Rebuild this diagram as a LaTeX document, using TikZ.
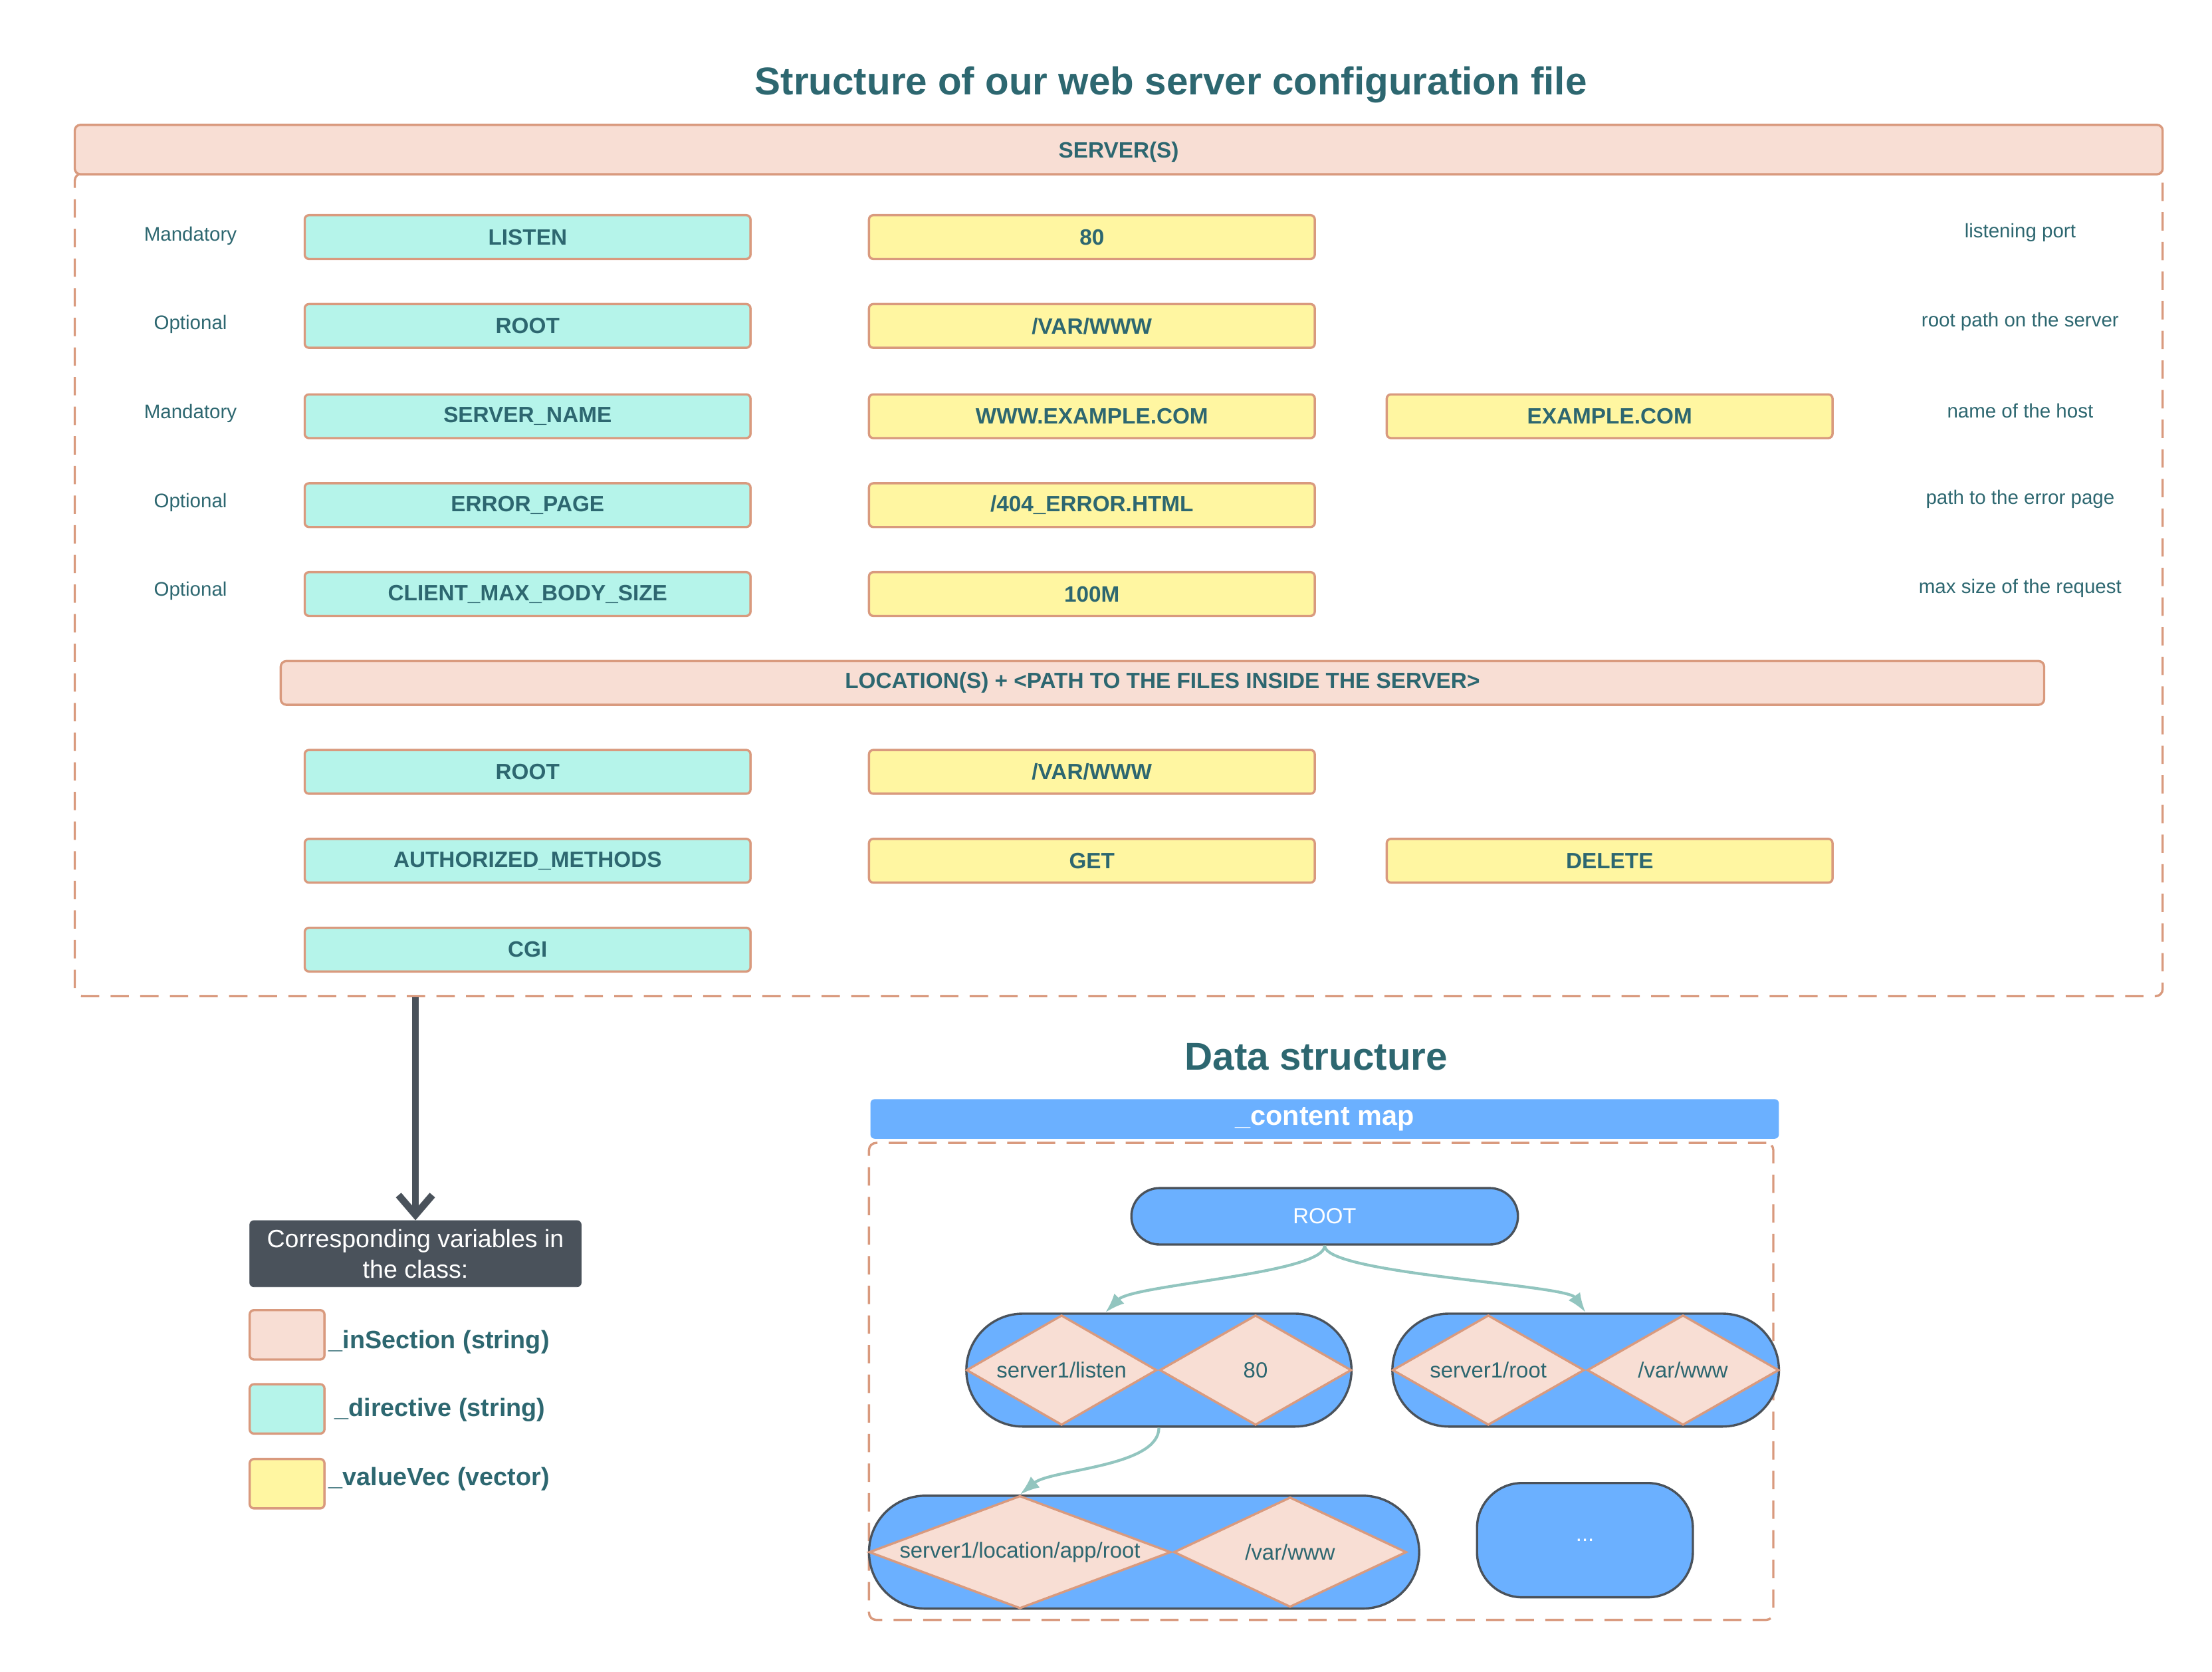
\documentclass[tikz,border=0pt]{standalone}
\usepackage{fontspec}
\setmainfont{Liberation Sans}
\usepackage{tikz}
\usetikzlibrary{calc,shapes.geometric,shapes.misc,arrows.meta}

\definecolor{ink}{HTML}{2D6770}
\definecolor{edge}{HTML}{D99A7E}
\definecolor{peach}{HTML}{F8DED4}
\definecolor{mint}{HTML}{B5F4EA}
\definecolor{lemon}{HTML}{FFF6A1}
\definecolor{slate}{HTML}{4A525B}
\definecolor{sky}{HTML}{6BB0FF}
\definecolor{sage}{HTML}{92C5BF}

\newcommand{\pxfont}[1]{\fontsize{#1}{#1}\selectfont}

\tikzset{
  secbar/.style={draw=edge, fill=peach, line width=1.6pt, rounded corners=4pt, inner sep=0pt,
    text=ink, font=\bfseries\pxfont{15.7}},
  frame/.style={draw=edge, line width=1.6pt, dashed, dash pattern=on 13pt off 8pt, rounded corners=5pt, inner sep=0pt},
  dirbox/.style={draw=edge, fill=mint, line width=1.6pt, rounded corners=3pt, inner sep=0pt,
    minimum width=316pt, minimum height=31pt, text=ink, font=\bfseries\pxfont{15.7}},
  valbox/.style={dirbox, fill=lemon},
  side/.style={text=ink, font=\pxfont{13.9}},
  heading/.style={text=ink, font=\bfseries\pxfont{27.5}},
  swatch/.style={draw=edge, fill=#1, line width=1.6pt, rounded corners=3pt, minimum width=53pt, minimum height=35pt},
  key/.style={anchor=west, text=ink, font=\bfseries\pxfont{17.8}, inner sep=0pt},
  pill/.style={rounded rectangle, draw=slate, fill=sky, line width=1.6pt, inner sep=0pt},
  dia/.style={diamond, draw=edge, fill=peach, line width=1.6pt, inner sep=0pt, text=ink, font=\pxfont{15.5}},
  link/.style={draw=sage, line width=2pt, -{Latex[length=14pt,width=10pt]}}
}

\begin{document}
\begin{tikzpicture}[x=1pt, y=-1pt]
  \useasboundingbox (0,0) rectangle (1568,1184.5);

  \node[heading] (title) at (830,60) {Structure of our web server configuration file};

  % servers block
  \node[frame, minimum width=1480pt, minimum height=583pt] (srvframe) at (793,414.5) {};
  \node[secbar, minimum width=1480pt, minimum height=35pt, text depth=0pt] (servers) at (793,106) {SERVER(S)};

  \node[side] (need1) at (135,167) {Mandatory};
  \node[dirbox] (listen) at (374,168) {LISTEN};
  \node[valbox] (port) at (774,168) {80};
  \node[side] (note1) at (1432,165) {listening port};

  \node[side] (need2) at (135,230) {Optional};
  \node[dirbox] (root) at (374,231) {ROOT};
  \node[valbox] (rootval) at (774,231) {/VAR/WWW};
  \node[side] (note2) at (1432,228) {root path on the server};

  \node[side] (need3) at (135,293) {Mandatory};
  \node[dirbox] (sname) at (374,295) {SERVER\_NAME};
  \node[valbox] (sname1) at (774,295) {WWW.EXAMPLE.COM};
  \node[valbox] (sname2) at (1141,295) {EXAMPLE.COM};
  \node[side] (note3) at (1432,291) {name of the host};

  \node[side] (need4) at (135,356) {Optional};
  \node[dirbox] (errpage) at (374,358) {ERROR\_PAGE};
  \node[valbox] (errval) at (774,358) {/404\_ERROR.HTML};
  \node[side] (note4) at (1432,354) {path to the error page};

  \node[side] (need5) at (135,419) {Optional};
  \node[dirbox] (bodysize) at (374,421) {CLIENT\_MAX\_BODY\_SIZE};
  \node[valbox] (bodyval) at (774,421) {100M};
  \node[side] (note5) at (1432,417) {max size of the request};

  % location block
  \node[secbar, minimum width=1250pt, minimum height=31pt] (locations) at (824,484)
    {LOCATION(S) + <PATH TO THE FILES INSIDE THE SERVER>};
  \node[dirbox] (locroot) at (374,547) {ROOT};
  \node[valbox] (locrootval) at (774,547) {/VAR/WWW};
  \node[dirbox] (methods) at (374,610) {AUTHORIZED\_METHODS};
  \node[valbox] (get) at (774,610) {GET};
  \node[valbox] (delete) at (1141,610) {DELETE};
  \node[dirbox] (cgi) at (374,673) {CGI};

  % legend
  \node[draw=slate, fill=slate, rounded corners=3pt, minimum width=235pt, minimum height=47pt,
    text=white, align=center, font=\pxfont{17.7}, inner sep=0pt] (classbox) at (294.5,888.5)
    {Corresponding variables in\\[4pt]the class:};
  \draw[slate, line width=5pt, -{Straight Barb[length=14pt,width=24pt]}]
    (srvframe.south -| classbox.north) -- (classbox.north);

  \node[swatch=peach] (sw1) at (203.5,946) {};
  \node[key] (k1) at (233,951) {\_inSection (string)};
  \node[swatch=mint] (sw2) at (203.5,998.5) {};
  \node[key] (k2) at (237,999) {\_directive (string)};
  \node[swatch=lemon] (sw3) at (203.5,1051.5) {};
  \node[key] (k3) at (233,1048) {\_valueVec (vector)};

  % data structure
  \node[heading] (dtitle) at (933,749) {Data structure};
  \node[fill=sky, rounded corners=3pt, minimum width=644pt, minimum height=28pt, inner sep=0pt,
    text=white, font=\bfseries\pxfont{19.5}] (content) at (939,793) {\_content map};
  \node[frame, minimum width=641pt, minimum height=338pt] (mapframe) at (936.5,979) {};

  \node[pill, minimum width=274pt, minimum height=40pt, text=white, font=\pxfont{15.5}] (top) at (939,862) {ROOT};
  \node[pill, minimum width=273pt, minimum height=80pt] (pair1) at (821.5,971) {};
  \node[pill, minimum width=274pt, minimum height=80pt] (pair2) at (1124,971) {};
  \node[pill, minimum width=390pt, minimum height=80pt] (pair3) at (811,1100) {};
  \node[draw=slate, fill=sky, line width=1.6pt, rounded corners=32pt, minimum width=153pt, minimum height=81pt,
    text=white, font=\pxfont{15.5}] (more) at (1123.5,1091.5) {...};

  \node[dia, minimum width=135pt, minimum height=78pt, shape aspect=1.73] (key1) at (752.5,971) {server1/listen};
  \node[dia, minimum width=136pt, minimum height=78pt, shape aspect=1.74] (val1) at (890,971) {80};
  \node[dia, minimum width=136pt, minimum height=78pt, shape aspect=1.74] (key2) at (1055,971) {server1/root};
  \node[dia, minimum width=136pt, minimum height=78pt, shape aspect=1.74] (val2) at (1193,971) {/var/www};
  \node[dia, minimum width=214pt, minimum height=80pt, shape aspect=2.68] (key3) at (723,1100) {server1/location/app/root};
  \node[dia, minimum width=165pt, minimum height=78pt, shape aspect=2.1] (val3) at (914.5,1100) {/var/www};

  \draw[link] (top.south) .. controls +(0,20) and +(20,-20) .. ($(pair1.north)+(-38,0)$);
  \draw[link] (top.south) .. controls +(0,20) and +(-14,-20) .. (pair2.north);
  \draw[link] (pair1.south) .. controls +(0,28) and +(22,-18) .. (key3.north);
\end{tikzpicture}
\end{document}
